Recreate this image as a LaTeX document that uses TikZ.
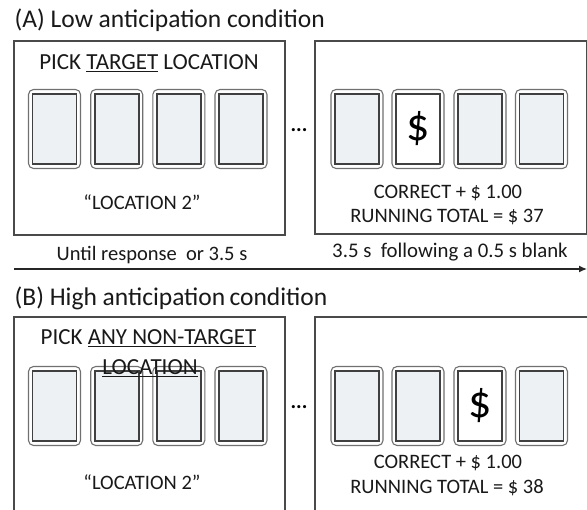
\documentclass[tikz,border=0pt]{standalone}
\usepackage{fontspec}
\usetikzlibrary{arrows.meta}
\setmainfont{Carlito}
\definecolor{boxline}{HTML}{4A4A4A}
\definecolor{cardouter}{HTML}{707070}
\definecolor{cardinner}{HTML}{404040}
\definecolor{cardfill}{HTML}{EEF1F3}
\tikzset{
  panel/.style={draw=boxline, line width=1.2pt},
  cardout/.style={draw=cardouter, line width=1.1pt, rounded corners=5pt, minimum width=52pt, minimum height=79pt, inner sep=0pt, fill=white},
  cardin/.style={draw=cardinner, line width=1.6pt, minimum width=44pt, minimum height=70pt, inner sep=0pt, fill=cardfill},
  cardwhite/.style={cardin, fill=white},
  txt/.style={font=\fontsize{20.5}{22}\selectfont, inner sep=0pt, text=black!90},
  head/.style={font=\fontsize{23}{25}\selectfont, inner sep=0pt, text=black!90},
  title/.style={font=\fontsize{25.5}{27}\selectfont, inner sep=0pt, anchor=west, text=black!90},
  dollar/.style={font=\fontsize{46}{48}\selectfont, inner sep=0pt},
  dots/.style={font=\bfseries\fontsize{21}{23}\selectfont, inner sep=0pt},
  timeline/.style={draw=black!85, line width=1.3pt, -{Latex[length=8pt,width=7pt]}}
}
\newcommand{\mycard}[4]{% name, x, y, style
  \node[cardout] (#1) at (#2,#3) {};
  \node[#4] (#1in) at (#1.center) {};
}
\begin{document}
\begin{tikzpicture}[x=1pt,y=-1pt]
\useasboundingbox[fill=white] (0,0) rectangle (587,510);
% Panel A
\node[title] (titleA) at (14.5,20) {(A) Low anticipation condition};
\draw[panel] (14,41) rectangle (285,235);
\draw[panel] (315,41) rectangle (586.5,234);
\node[head] (pickA) at (149,63) {PICK \underline{TARGET} LOCATION};
\mycard{a1}{54.5}{129}{cardin}
\mycard{a2}{116.7}{129}{cardin}
\mycard{a3}{178.8}{129}{cardin}
\mycard{a4}{241}{129}{cardin}
\node[txt] (locA) at (142,202) {“LOCATION 2”};
\node[dots] (dotsA) at (299,130) {...};
\mycard{r1}{357}{129}{cardin}
\mycard{r2}{418}{129}{cardwhite}
\mycard{r3}{480}{129}{cardin}
\mycard{r4}{541.5}{129}{cardin}
\node[dollar] (dA) at (r2.center) {\$};
\node[txt] (corrA) at (448,193) {CORRECT + \$ 1.00};
\node[txt] (runA) at (447,217) {RUNNING TOTAL = \$ 37};
% timeline
\node[txt] (untilA) at (152,255) {Until response\ \ or 3.5 s};
\node[txt, font=\fontsize{20.8}{22}\selectfont] (follA) at (450,252) {3.5 s\ \ following a 0.5 s blank};
\coordinate (tl0) at (14,269);
\coordinate (tl1) at (587,269);
\draw[timeline] (tl0) -- (tl1);
% Panel B
\node[title] (titleB) at (14.5,298) {(B) High anticipation\,condition};
\draw[panel] (14,517) -- (14,317) -- (285,317) -- (285,517);
\draw[panel] (315,517) -- (315,317) -- (588,317);
\mycard{b1}{54.5}{406}{cardin}
\mycard{b2}{116.7}{406}{cardin}
\mycard{b3}{178.8}{406}{cardin}
\mycard{b4}{241}{406}{cardin}
\node[head, anchor=west] (pickB) at (40.5,338) {PICK \underline{ANY NON-TARGET}};
\node[head] (pickB2) at (150,368) {\underline{LOCATION}};
\node[txt] (locB) at (142,482) {“LOCATION 2”};
\node[dots] (dotsB) at (299,407) {...};
\mycard{s1}{357}{406}{cardin}
\mycard{s2}{418}{406}{cardin}
\mycard{s3}{480}{406}{cardwhite}
\mycard{s4}{541.5}{406}{cardin}
\node[dollar] (dB) at (s3.center) {\$};
\node[txt] (corrB) at (448,463) {CORRECT + \$ 1.00};
\node[txt] (runB) at (447,488) {RUNNING TOTAL = \$ 38};
\end{tikzpicture}
\end{document}
